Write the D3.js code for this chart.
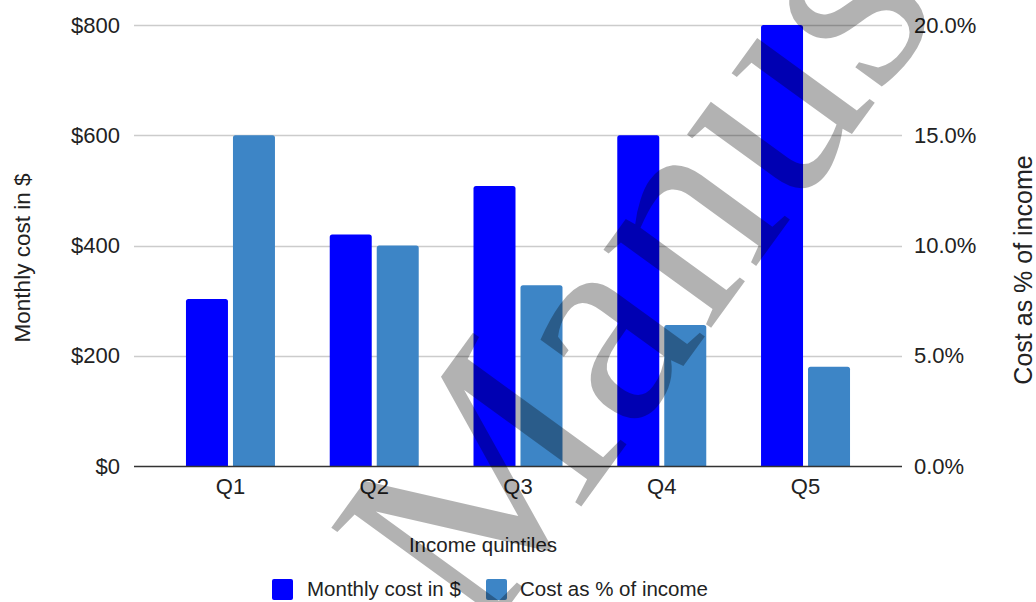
<!DOCTYPE html>
<html>
<head>
<meta charset="utf-8">
<script src="https://cdn.jsdelivr.net/npm/d3@7"></script>
<style>
  body { margin: 0; background: #fff; }
  svg { display: block; font-family: Arial, "Liberation Sans", sans-serif; }
</style>
</head>
<body>
<svg id="chart" width="1036" height="602"></svg>
<script>
// Data
const quintiles = ["Q1", "Q2", "Q3", "Q4", "Q5"];
const monthlyCost = [303, 420, 508, 600, 800];      // $ per month
const costShare = [15.0, 10.0, 8.2, 6.4, 4.5];      // % of income
const costTicks = [0, 200, 400, 600, 800];
const shareTicks = [0, 5, 10, 15, 20];
const seriesNames = ["Monthly cost in $", "Cost as % of income"];
const seriesColors = ["#0000ff", "#3d85c6"];

const W = 1036, H = 602;
const area = { left: 134, right: 902, top: 25, bottom: 466 };
const tickFont = 22, titleFont = 20.5;

const svg = d3.select("#chart");

const x = d3.scaleBand().domain(quintiles)
  .range([area.left, area.right]).paddingInner(0.381).paddingOuter(0.3615);
const xs = d3.scaleBand().domain(seriesNames)
  .range([0, x.bandwidth()]).paddingInner(0.1064);
const yCost = d3.scaleLinear().domain([0, 800]).range([area.bottom, area.top]);
const yShare = d3.scaleLinear().domain([0, 20]).range([area.bottom, area.top]);

// gridlines
svg.append("g").selectAll("line").data(costTicks.filter(d => d > 0)).join("line")
  .attr("x1", area.left).attr("x2", area.right)
  .attr("y1", d => Math.round(yCost(d)) + 0.5).attr("y2", d => Math.round(yCost(d)) + 0.5)
  .attr("stroke", "#cccccc").attr("stroke-width", 1.3);

// bars with slightly rounded tops
function barPath(x0, w, yTop, yBase, r) {
  r = Math.min(r, (yBase - yTop) / 2);
  return `M${x0},${yBase}V${yTop + r}Q${x0},${yTop} ${x0 + r},${yTop}` +
         `H${x0 + w - r}Q${x0 + w},${yTop} ${x0 + w},${yTop + r}V${yBase}Z`;
}
const rows = quintiles.map((q, i) => ({ q, values: [
  { s: seriesNames[0], y: yCost(monthlyCost[i]), c: seriesColors[0] },
  { s: seriesNames[1], y: yShare(costShare[i]), c: seriesColors[1] }
]}));
svg.append("g").selectAll("g").data(rows).join("g")
  .attr("transform", d => `translate(${x(d.q)},0)`)
  .selectAll("path").data(d => d.values).join("path")
  .attr("d", d => barPath(xs(d.s), xs.bandwidth(), d.y, area.bottom, 2.5))
  .attr("fill", d => d.c);

// baseline
svg.append("line")
  .attr("x1", area.left).attr("x2", area.right)
  .attr("y1", area.bottom + 0.5).attr("y2", area.bottom + 0.5)
  .attr("stroke", "#333").attr("stroke-width", 1.3);

// axes
function styleAxis(g) {
  g.select(".domain").remove();
  g.selectAll("text").attr("fill", "#222").style("font-size", tickFont + "px")
    .style("font-family", "Arial, 'Liberation Sans', sans-serif");
}
svg.append("g").attr("transform", `translate(${area.left},0)`)
  .call(d3.axisLeft(yCost).tickValues(costTicks).tickFormat(d => "$" + d)
    .tickSize(0).tickPadding(14))
  .call(styleAxis);
svg.append("g").attr("transform", `translate(${area.right},0)`)
  .call(d3.axisRight(yShare).tickValues(shareTicks).tickFormat(d => d.toFixed(1) + "%")
    .tickSize(0).tickPadding(12))
  .call(styleAxis);
svg.append("g").attr("transform", `translate(0,${area.bottom})`)
  .call(d3.axisBottom(x).tickSize(0).tickPadding(12))
  .call(styleAxis);

// axis titles
const titleAttrs = (sel, size) => sel.attr("fill", "#222").style("font-size", (size || titleFont) + "px");
svg.append("text").text("Income quintiles")
  .attr("x", 483).attr("y", 552).attr("text-anchor", "middle").call(titleAttrs);
svg.append("text").text("Monthly cost in $")
  .attr("transform", "translate(30,258) rotate(-90)").attr("text-anchor", "middle").call(titleAttrs, 22.5);
svg.append("text").text("Cost as % of income")
  .attr("transform", "translate(1032,270) rotate(-90)").attr("text-anchor", "middle").call(titleAttrs, 25);

// legend
const legend = svg.append("g").selectAll("g").data(seriesNames).join("g")
  .attr("transform", (d, i) => `translate(${[272, 486][i]},579)`);
legend.append("rect").attr("width", 21).attr("height", 21).attr("rx", 2)
  .attr("fill", (d, i) => seriesColors[i]);
legend.append("text").text(d => d).attr("x", (d, i) => [35, 34][i]).attr("y", 17)
  .call(titleAttrs);

// diagonal watermark
svg.append("text").text("Manuscript")
  .attr("transform", "translate(480,646) rotate(-54)")
  .attr("fill", "#000").attr("fill-opacity", 0.3)
  .style("font-family", "'Liberation Serif', 'DejaVu Serif', serif")
  .style("font-size", "290px");
</script>
</body>
</html>
